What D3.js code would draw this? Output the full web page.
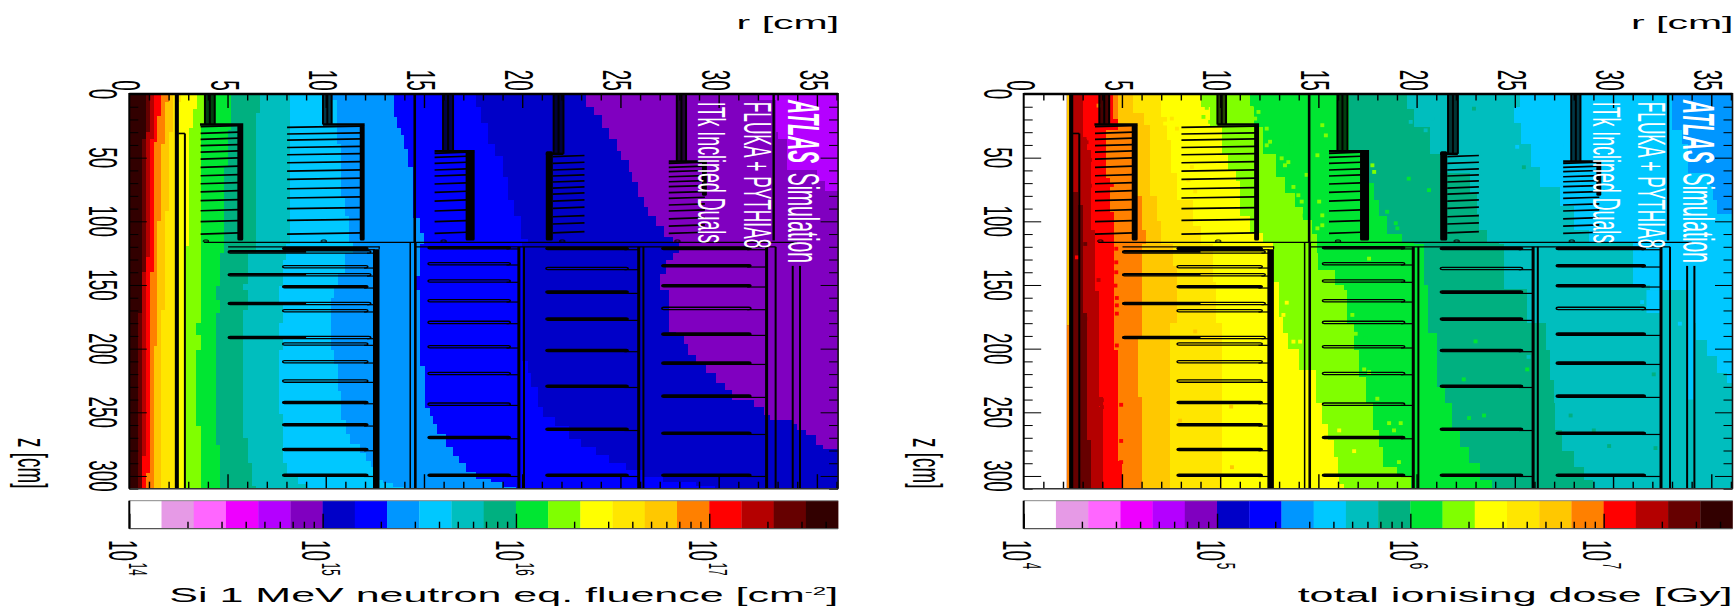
<!DOCTYPE html>
<html>
<head>
<meta charset="utf-8">
<script src="https://d3js.org/d3.v7.min.js"></script>
<style>
html, body { margin: 0; padding: 0; background: #fff; overflow: hidden; }
text { font-family: "Liberation Sans", Helvetica, Arial, sans-serif; fill: #000; }
</style>
</head>
<body>
<div id="chart"></div>
<script>
// colour levels of the palette, low to high (6 per decade)
var levelColors = ["#ffffff", "#e69ae6", "#ff66ff", "#ee00ff", "#b400ff", "#8000c0", "#0000c8", "#0000ff",
    "#0096ff", "#00c8ff", "#00bebe", "#00b080", "#00e632", "#80ff00", "#ffff00", "#ffe600",
    "#ffc800", "#ff8000", "#ff0000", "#b40000", "#660000", "#320000"];

var rMajorTicks = [0, 5, 10, 15, 20, 25, 30, 35];
var rMinorTicks = [1, 2, 3, 4, 6, 7, 8, 9, 11, 12, 13, 14, 16, 17, 18, 19, 21, 22, 23, 24, 26, 27, 28, 29, 31, 32, 33, 34, 36];
var zMajorTicks = [0, 50, 100, 150, 200, 250, 300];
var zMinorTicks = [10, 20, 30, 40, 60, 70, 80, 90, 110, 120, 130, 140, 160, 170, 180, 190, 210, 220, 230, 240, 260, 270, 280, 290, 310];

var fluenceDecades = [1e14, 1e15, 1e16, 1e17];
var fluenceExponents = ["14", "15", "16", "17"];
var fluenceMinor = [2e14, 3e14, 4e14, 5e14, 6e14, 7e14, 8e14, 9e14, 2e15, 3e15, 4e15, 5e15, 6e15, 7e15, 8e15, 9e15,
    2e16, 3e16, 4e16, 5e16, 6e16, 7e16, 8e16, 9e16, 2e17, 3e17, 4e17];
var doseDecades = [1e4, 1e5, 1e6, 1e7];
var doseExponents = ["4", "5", "6", "7"];
var doseMinor = [2e4, 3e4, 4e4, 5e4, 6e4, 7e4, 8e4, 9e4, 2e5, 3e5, 4e5, 5e5, 6e5, 7e5, 8e5, 9e5,
    2e6, 3e6, 4e6, 5e6, 6e6, 7e6, 8e6, 9e6, 2e7, 3e7, 4e7];

// fluence map: for colour level n, [z, outer r of that level from this z on]
var fluenceBase = 4;
var fluenceEdge5 = [[0,32.07],[5,32.9],[30,33],[35,33.5],[60,35],[68,35.4],[76,36.2]];
var fluenceEdge6 = [[0,23.26],[10,23.63],[16.5,24.04],[27,24.44],[35,24.83],[45,25.05],[52,25.46],[61,25.6],[69,25.9],[81,26.2],[88.5,26.4],[96,26.8],[104,27.24],[112,27.66],[116,28],[125,27.66],[130,27.3],[141,27],[154,27.45],[187,27.84],[189,28.26],[196,28.43],[205,28.85],[213,29.36],[219.5,29.87],[227,30.3],[232.6,30.7],[240,31.8],[245.7,32.3],[252,32.6],[256,33.77],[259,34],[264,34.44],[268,34.95],[276,35.3],[278.5,36.2]];
var fluenceEdge7 = [[0,17.66],[10,17.9],[23,18.26],[39,18.6],[49,19.02],[65,19.27],[83,19.6],[96,19.95],[114,20.3],[116,20],[210,20.3],[219.5,20.46],[230,20.8],[245.7,21.05],[253.5,21.65],[261,22.4],[270.6,23],[277,23.77],[283.7,24.44],[290,25.3],[295.5,26.14],[300.7,27.16],[304.6,28.85],[308,29.8]];
var fluenceEdge8 = [[0,13.46],[18,13.63],[27,13.81],[32,14],[43,14.2],[57,14.44],[97,14.8],[109,15],[118,14.81],[143,14.6],[154,14.8],[214,15.03],[247,15.3],[253,15.46],[259,15.66],[267,16.1],[270.6,16.14],[277,16.48],[284,16.8],[290,17.15],[297,17.66],[302,18.4],[305,19],[308.6,19.7]];
var fluenceEdge9 = [[0,10.29],[5,10.58],[39,10.8],[81,11],[96,11.2],[116,11.4],[125,10.97],[141,10.6],[151,10.4],[160,10.25],[201,10.4],[212,10.63],[233,10.8],[256,11.05],[267,11.25],[274.5,11.73],[282,12.07],[288,12.3],[293,12.5],[303,12.9],[305.5,13.42],[308.6,14]];
var fluenceEdge10 = [[0,8.2],[118,8],[130,7.83],[151,7.6],[164,7.83],[180,7.6],[191,7.83],[201,7.6],[251,7.83],[290,8.05],[300.7,8.6],[306,9]];
var fluenceEdge11 = [[0,6.64],[15,6.44],[125,6.05],[149,5.8],[154,6.05],[170,5.8],[270,6.05],[290,6.25],[308,6.44]];
var fluenceEdge12 = [[0,5.2],[28,5.03],[57,4.8],[125,4.6],[151,4.4],[162,4.6],[172,4.4],[276,4.6]];
var fluenceEdge13 = [[0,3.85],[24,3.64],[180,3.42],[189,3.64],[201,3.42],[261,3.64]];
var fluenceEdge14 = [[0,3.46],[12,3.24],[27,3.03],[119,2.9]];
var fluenceEdge15 = [[0,2.65],[6,2.4]];
var fluenceEdge16 = [[0,2.22],[30,2.02],[92,1.81],[170,1.6]];
var fluenceEdge17 = [[0,2.02],[6,1.81],[39,1.6],[100,1.4],[198,1.25]];
var fluenceEdge18 = [[0,1.6],[17,1.4],[38,1.25],[140,1.05],[298,0.85]];
var fluenceEdge19 = [[0,1.25],[35,1.05],[128,0.85],[284,0.64]];
var fluenceEdge20 = [[0,1.05],[30,0.85],[140,0.64]];
var fluenceEdge21 = [[0,0.85],[35,0.64],[172,0.44]];

// dose map, same layout
var doseBase = 8;
var doseEdge9 = [[0,33],[28,33.5],[39,33.8],[62,34.94],[72,35.1],[83,35.28],[94,36.2]];
var doseEdge10 = [[0,25.28],[10,24.95],[23,25.3],[39,25.8],[57,26.3],[73,27.3],[88,28],[107,28.8],[116,31],[150,31.9],[154,34.17],[180,34.2],[193,34.77],[206,35.28],[219,35.8],[227,36.2]];
var doseEdge11 = [[0,19.5],[12,19.85],[26,20.7],[47,21.2],[62,22.74],[78,23.07],[94,23.2],[107,23.58],[116,24.2],[118,24.43],[153,25.6],[180,26.6],[201,26.8],[225,26.97],[243,27.06],[264,27.4],[280,28],[293,28.5],[303,29]];
var doseEdge12 = [[0,16.55],[46,17.57],[70,17.82],[83,18.07],[96,18.5],[110,19.26],[116,19.85],[118,20.36],[150,20.6],[188,21.04],[230,21.46],[243,21.8],[264,22.2],[277,22.65],[290,23.25],[303,23.84]];
var doseEdge13 = [[0,11.5],[10,11.7],[26,12.19],[47,12.86],[65,13.3],[78,13.8],[89,14.2],[99,14.7],[110,14.94],[125,15],[138,15.87],[150,16.3],[154,16.46],[180,16.8],[201,17.06],[222,17.4],[243,17.8],[264,18.07],[277,18.3],[293,19],[300,19.7]];
var doseEdge14 = [[0,9.05],[10,9.47],[26,10.07],[47,10.4],[60,10.83],[68,11],[96,11.5],[109,12.19],[116,12.7],[148,13],[175,13.2],[188,13.46],[200,14],[217,14.9],[243,15.2],[259,15.5],[272,15.8],[285,16],[300,16.04],[306,16.3]];
var doseEdge15 = [[0,7],[18,7.27],[36,7.5],[62,7.78],[83,8.6],[104,9.05],[118,9.64],[148,9.8],[180,10.07]];
var doseEdge16 = [[0,5.58],[15,6.1],[24,6.42],[80,6.8],[100,7],[118,7.58],[135,7.78],[180,7.44]];
var doseEdge17 = [[0,4.8],[24,5.5],[80,6],[107,6.2],[118,6],[190.7,5.8],[238,6]];
var doseEdge18 = [[0,4.56],[20,4.8],[28,4.18],[66,4.39],[93,4.59],[201,4.8],[288,5]];
var doseEdge19 = [[0,3],[35,3.22],[44,3.42],[107,3.63],[155,3.83],[238,4.03],[245,3.83],[246,4.03]];
var doseEdge20 = [[0,2.4],[77,2.78],[87,3],[172,3.22],[272,3.42]];
// patches that do not follow the edges: r0, r1, z0, z1, colour level
var dosePatches = [[33.75,34.1,135,240,9],[31.7,32.45,154,172,9],[2.19,2.32,0,181.5,16],[2.19,2.32,181.5,310,17],[0,2.19,0,310,0]];
// single noisy bins in the dose map: r, z, colour level
var doseSpecks = [[9.22,9.4,13],[9.05,16.5,13],[9.39,20.4,13],[11.5,9.4,13],[11.85,12.6,13],[11.68,17.8,13],[11.42,21.7,13],
    [12.27,25.7,13],[12.44,36,13],[12.27,38.8,13],[13.03,49,13],[13.2,54.5,13],[13.37,52,13],[13.63,71.5,13],[13.88,78,13],
    [14.05,83,13],[14.3,62,13],[13.54,37.5,12],[12.78,7.9,12],[14.8,83,12],[14.2,94,12],[8.46,55.8,15],[8.29,66,15],[8.63,75,15],
    [7.7,25.7,15],[7.44,17.8,15],[7.1,21.7,14],[3.88,29.6,18],[3,33.8,19],[3.1,36.4,19],[3.27,50.3,19],[3.27,70.5,19],
    [3.03,116.3,20],[2.61,126.8,18],[3.71,144.6,19],[4.39,70,18],[4.61,120,18],[4.61,130.7,18],[4.61,138.5,18],[4.57,149,18],
    [3.71,7.6,17],[3.63,156.6,19],[3.63,159.8,19],[4.64,158.7,18],[4.64,164.5,18],[4.64,171,18],[4.64,196,18],[3.88,239,19],
    [3.88,244.4,19],[4.86,242.6,18],[4.86,271,18],[4.86,287.6,18],[3.03,175,20],[13.29,162.4,14],[13.12,172,14],[13.63,193,14],
    [13.97,193,14],[13.29,202.5,14],[8.63,185,16],[7.86,255,16],[10.46,244,16],[10.5,291.6,16],[14.85,46.6,13],[14.94,83,13],
    [14.85,104,13],[15.1,93.8,13],[15.1,101.6,13],[15.1,23,13],[15.28,31,13],[19.5,65,12],[20.53,74,12],[17.65,54.5,13],
    [17.74,59.7,13],[18.4,91,12],[18.92,104,12],[18.84,100,12],[19.6,20.4,10],[20.7,17.8,10],[20.36,27,10],[22.82,10,11],
    [25.36,56,11],[26.46,24.4,9],[27.3,38.8,9],[26.63,33.5,9],[26.04,21.7,9],[25.02,40,9],[17.48,127.8,13],[16.63,172,13],
    [16.8,186.8,13],[17.31,190.7,12],[17.23,214.8,13],[17.48,217,13],[17.9,237.8,13],[18.5,257,13],[18.75,262.7,13],
    [19.09,257,13],[15.96,262.7,14],[16.72,279,14],[19,287.6,13],[22.9,192.8,12],[22.3,222.6,12],[23.33,251,12],[22.57,253,12],
    [25.53,214.8,12],[25.6,205,10],[27.74,251,11],[29.7,275,11],[28.92,262.7,11],[31.97,218.7,11],[32.06,276.6,11],
    [31.38,161.9,9],[31.97,164.5,9],[33.3,178.9,9],[35.45,214.8,9]];

// detector outlines, r and z in cm
var beamR = 2.42;
var innerTubeR = 2.83;
var staveBundles = [[3.85, 4.35, 0, 24], [9.86, 10.3, 0, 24], [15.97, 16.48, 0, 45], [21.6, 22.1, 0, 47], [27.87, 28.34, 0, 53]];
var layerTeethStart = [3.63, 8.03, 15.54, 21.56, 27.46];
var layerTeethEnd = [5.55, 11.8, 17.16, 23.17, 29.3];
var layerSpines = [[5.5, 5.8, 24, 115], [11.73, 11.98, 24, 115], [17.12, 17.58, 45, 115], [21.2, 21.56, 45, 115], [29.15, 29.4, 53, 80]];
var layerTopBars = [[3.6, 5.8, 24], [9.86, 11.98, 24], [15.54, 17.58, 45], [21.2, 22.1, 47], [27.46, 29.4, 53]];
var layerTeethZ = [
    [25.7, 30.9, 35.6, 40.6, 45.6, 51.1, 57.6, 64.2, 70.5, 76.8, 83.8, 91.7, 100.3, 110],
    [26.2, 31.4, 36.2, 42, 47.7, 54, 60.5, 67, 74.4, 81.7, 90.1, 99.3, 110],
    [46.6, 49.8, 54.5, 59.7, 64.4, 70.7, 77.3, 84.1, 91.9, 100.3, 109.5],
    [49.2, 54.5, 59.7, 64.4, 69.1, 73.9, 78.6, 84.1, 89.8, 96.4, 102.1, 109],
    [54.5, 57.6, 61, 65, 68.9, 72.8, 77.5, 82, 87.2, 91.9, 98, 103.7, 109.5]
];
var smallRingsR = [3.9, 9.9, 16, 22.04, 27.9];

var ringLong = [124, 142, 164.5, 191.2];
var ringASolid = [121.3, 151.4, 242.3, 259.8, 279.2, 299.4];
var ringAHollow = [135.7, 170.2, 196.4, 210.3, 225.5];
var ringBSolid = [120.7, 269.8, 299.4];
var ringBHollow = [133.3, 146.9, 162.4, 179.4, 198.5, 219.5, 243.6];
var ringCSolid = [121.3, 155.6, 176.8, 201.4, 229.5, 263.3, 299.4];
var ringCHollow = [137];
var ringDSolid = [121.3, 134.9, 150.6, 188.6, 211.4, 237.3, 266.4, 299.4];
var ringDHollow = [168.4];

// vertical supports: r, z0, z1, line width
var supports = [
    [beamR, 0, 310, 4], [innerTubeR, 31, 310, 2], [14.53, 0, 116.5, 2.6],
    [14.3, 116.5, 310, 1.5], [14.56, 116.5, 310, 2.6], [12.57, 122, 310, 6.5], [12.72, 120, 122, 1.2],
    [19.83, 120, 310, 3], [20.09, 120, 310, 2], [25.93, 120, 310, 3], [26.17, 120, 310, 2],
    [32.44, 120, 310, 3], [32.9, 120, 310, 2], [32.8, 0, 115, 2.4], [33.77, 135, 310, 2], [34.14, 135, 310, 2]
];

var panelWidth = 708.8;
var plotTop = 94, plotBottom = 488.7;
var barTop = 500.7, barBottom = 528.7;
var textSquash = 0.46;

var x = d3.scaleLinear().domain([0, 36.08]).range([0, panelWidth]);
var z = d3.scaleLinear().domain([0, 310]).range([plotTop, plotBottom]);

var svg = d3.select("#chart").append("svg")
    .attr("width", 1734)
    .attr("height", 607)
    .style("display", "block");

// all the text in the picture is squashed in y
function addText(g, px, py, str, size, rotated, anchor, squash) {
    return g.append("text")
        .attr("transform", "translate(" + px + "," + py + ") scale(1," + (squash || textSquash) + ")" + (rotated ? " rotate(90)" : ""))
        .attr("text-anchor", anchor)
        .attr("font-size", size)
        .text(str);
}

function drawMap(g, clipId, base, edges, patches, specks) {
    var area = d3.area()
        .x0(x(0))
        .x1(function(d) { return x(d[1]); })
        .y(function(d) { return z(d[0]); })
        .curve(d3.curveStepBefore);
    g.append("clipPath").attr("id", clipId).append("rect")
        .attr("x", 0).attr("y", plotTop).attr("width", panelWidth).attr("height", plotBottom - plotTop);
    var m = g.append("g").attr("clip-path", "url(#" + clipId + ")");
    m.append("rect")
        .attr("x", 0).attr("y", plotTop).attr("width", panelWidth).attr("height", plotBottom - plotTop)
        .attr("fill", levelColors[base]);
    edges.forEach(function(e) {
        var pts = e.steps.concat([[310, e.steps[e.steps.length - 1][1]]]);
        m.append("path").attr("d", area(pts)).attr("fill", levelColors[e.level]).attr("shape-rendering", "crispEdges");
    });
    m.selectAll("rect.speck").data(specks).enter().append("rect")
        .attr("class", "speck")
        .attr("x", function(d) { return x(d[0]); })
        .attr("width", x(0.2) - x(0))
        .attr("y", function(d) { return z(d[1]); })
        .attr("height", z(3) - z(0))
        .attr("fill", function(d) { return levelColors[d[2]]; });
    m.selectAll("rect.patch").data(patches).enter().append("rect")
        .attr("class", "patch")
        .attr("x", function(d) { return x(d[0]); })
        .attr("width", function(d) { return x(d[1]) - x(d[0]); })
        .attr("y", function(d) { return z(d[2]); })
        .attr("height", function(d) { return z(d[3]) - z(d[2]); })
        .attr("fill", function(d) { return levelColors[d[4]]; });
}

function hLine(g, r0, r1, zv, w) {
    g.append("line")
        .attr("x1", x(r0)).attr("x2", x(r1))
        .attr("y1", z(zv)).attr("y2", z(zv))
        .attr("stroke", "#000").attr("stroke-width", w);
}

function drawRings(g, zList, r0, r1, rEnd, solid) {
    zList.forEach(function(zv) {
        g.append("rect")
            .attr("x", x(r0)).attr("width", x(r1) - x(r0))
            .attr("y", z(zv - 0.9)).attr("height", z(zv + 0.9) - z(zv - 0.9))
            .attr("rx", 2)
            .attr("fill", solid ? "#000" : "none")
            .attr("stroke", "#000").attr("stroke-width", 1.3);
        hLine(g, r1 - 0.2, rEnd, zv + 1, 1.2);
    });
}

function drawDetector(g) {
    // barrel staves
    staveBundles.forEach(function(s) {
        g.append("rect")
            .attr("x", x(s[0])).attr("width", x(s[1]) - x(s[0]))
            .attr("y", z(s[2])).attr("height", z(s[3]) - z(s[2]))
            .attr("fill", "#000").attr("fill-opacity", 0.72);
        [s[0], (s[0] + s[1]) / 2, s[1]].forEach(function(r) {
            g.append("line").attr("x1", x(r)).attr("x2", x(r)).attr("y1", z(s[2])).attr("y2", z(s[3]))
                .attr("stroke", "#000").attr("stroke-width", 2);
        });
    });
    layerTeethZ.forEach(function(list, i) {
        g.selectAll("line.tooth" + i).data(list).enter().append("line")
            .attr("class", "tooth" + i)
            .attr("x1", x(layerTeethStart[i])).attr("x2", x(layerTeethEnd[i]))
            .attr("y1", function(d) { return z(d); })
            .attr("y2", function(d) { return z(d - 0.9); })
            .attr("stroke", "#000").attr("stroke-width", 1.7);
    });
    layerSpines.forEach(function(s) {
        g.append("rect")
            .attr("x", x(s[0])).attr("width", x(s[1]) - x(s[0]))
            .attr("y", z(s[2])).attr("height", z(s[3]) - z(s[2]))
            .attr("rx", 1.5).attr("fill", "#000");
    });
    layerTopBars.forEach(function(b) { hLine(g, b[0], b[1], b[2], 2.4); });
    smallRingsR.forEach(function(r) {
        g.append("ellipse").attr("cx", x(r)).attr("cy", z(115.5)).attr("rx", 3).attr("ry", 1.1)
            .attr("fill", "none").attr("stroke", "#000").attr("stroke-width", 1);
    });
    // horizontal service lines
    hLine(g, 3.8, 34, 116.5, 1.4);
    hLine(g, 5.03, 12.75, 120, 1.2);
    hLine(g, 14.56, 32.9, 120, 1.2);
    // end-cap rings
    drawRings(g, ringLong, 5.03, 12.3, 12.5, false);
    ringLong.forEach(function(zv) { hLine(g, 5.03, 9, zv, 1.6); });
    drawRings(g, ringASolid, 7.8, 12.15, 12.5, true);
    drawRings(g, ringAHollow, 7.8, 12.15, 12.5, false);
    drawRings(g, ringBSolid, 15.2, 19.4, 19.8, true);
    drawRings(g, ringBHollow, 15.2, 19.4, 19.8, false);
    drawRings(g, ringCSolid, 21.2, 25.4, 25.9, true);
    drawRings(g, ringCHollow, 21.2, 25.4, 25.9, false);
    drawRings(g, ringDSolid, 27.1, 31.65, 32.4, true);
    drawRings(g, ringDHollow, 27.1, 31.65, 32.4, false);
    g.selectAll("line.support").data(supports).enter().append("line")
        .attr("class", "support")
        .attr("x1", function(d) { return x(d[0]); })
        .attr("x2", function(d) { return x(d[0]); })
        .attr("y1", function(d) { return z(d[1]); })
        .attr("y2", function(d) { return z(d[2]); })
        .attr("stroke", "#000")
        .attr("stroke-width", function(d) { return d[3]; });
    hLine(g, 2.5, innerTubeR, 31, 1.6);
}

function tickStyle(a, w) {
    a.select(".domain").remove();
    a.selectAll("line").attr("stroke", "#000").attr("stroke-width", w);
}

function drawAxes(g) {
    var xTicks = function(axisFn, vals, len) { return axisFn(x).tickValues(vals).tickSize(len).tickFormat(""); };
    var zTicks = function(axisFn, vals, len) { return axisFn(z).tickValues(vals).tickSize(len).tickFormat(""); };
    g.append("g").attr("transform", "translate(0," + plotTop + ")").call(xTicks(d3.axisBottom, rMajorTicks.slice(1), 14)).call(tickStyle, 1.4);
    g.append("g").attr("transform", "translate(0," + plotTop + ")").call(xTicks(d3.axisBottom, rMinorTicks, 6.5)).call(tickStyle, 1.4);
    g.append("g").attr("transform", "translate(0," + plotBottom + ")").call(xTicks(d3.axisTop, rMajorTicks.slice(1), 14.5)).call(tickStyle, 1.4);
    g.append("g").attr("transform", "translate(0," + plotBottom + ")").call(xTicks(d3.axisTop, rMinorTicks, 7)).call(tickStyle, 1.4);
    g.append("g").call(zTicks(d3.axisRight, zMajorTicks.slice(1), 17.5)).call(tickStyle, 1);
    g.append("g").call(zTicks(d3.axisRight, zMinorTicks, 9)).call(tickStyle, 1);
    g.append("g").attr("transform", "translate(" + panelWidth + ",0)").call(zTicks(d3.axisLeft, zMajorTicks.slice(1), 17.5)).call(tickStyle, 1);
    g.append("g").attr("transform", "translate(" + panelWidth + ",0)").call(zTicks(d3.axisLeft, zMinorTicks, 9)).call(tickStyle, 1);
    // frame
    hLine(g, 0, 36.08, 0, 2.6);
    g.append("line").attr("x1", 0).attr("x2", panelWidth).attr("y1", plotBottom).attr("y2", plotBottom).attr("stroke", "#333").attr("stroke-width", 1.6);
    g.append("line").attr("x1", 0).attr("x2", 0).attr("y1", plotTop - 1).attr("y2", plotBottom).attr("stroke", "#000").attr("stroke-width", 2);
    g.append("line").attr("x1", panelWidth).attr("x2", panelWidth).attr("y1", plotTop - 1).attr("y2", plotBottom).attr("stroke", "#111").attr("stroke-width", 1.6);
    rMajorTicks.forEach(function(t) { addText(g, x(t) - 17, 90.7, String(t), 41, true, "end"); });
    zMajorTicks.forEach(function(t) { addText(g, -40, z(t), String(t), 41, true, "middle"); });
    addText(g, -111, 488.4, "z [cm]", 41, true, "end");
    addText(g, panelWidth + 1, 28.5, "r [cm]", 41, false, "end");
}

function drawLabels(g) {
    var a = addText(g, 659, 100, "", 44, true, "start", 0.44).style("fill", "#fff");
    a.append("tspan").attr("font-weight", "bold").attr("font-style", "italic").text("ATLAS").style("fill", "#fff");
    a.append("tspan").attr("dx", 22).text("Simulation").style("fill", "#fff");
    addText(g, 614.7, 101.7, "FLUKA + PYTHIA8", 38.7, true, "start", 0.447).style("fill", "#fff");
    addText(g, 569, 101.7, "ITk Inclined Duals", 38.7, true, "start").style("fill", "#fff");
}

function drawColorBar(g, domainMax, domainMin, decades, exps, minor, title, supParts) {
    var band = d3.scaleBand().domain(levelColors).range([0, panelWidth]);
    g.selectAll("rect.level").data(levelColors).enter().append("rect")
        .attr("class", "level")
        .attr("x", function(d) { return band(d); })
        .attr("width", band.bandwidth() + 0.3)
        .attr("y", barTop).attr("height", barBottom - barTop)
        .attr("fill", function(d) { return d; });
    var bar = d3.scaleLog().domain([domainMin, domainMax]).range([0, panelWidth]);
    g.append("g").attr("transform", "translate(0," + barBottom + ")")
        .call(d3.axisTop(bar).tickValues(decades).tickSize(15).tickFormat("")).call(tickStyle, 1.4);
    g.append("g").attr("transform", "translate(0," + barBottom + ")")
        .call(d3.axisTop(bar).tickValues(minor).tickSize(7).tickFormat("")).call(tickStyle, 1.4);
    g.append("line").attr("x1", 0).attr("x2", panelWidth).attr("y1", barTop).attr("y2", barTop).attr("stroke", "#888").attr("stroke-width", 1);
    g.append("line").attr("x1", 0).attr("x2", panelWidth).attr("y1", barBottom).attr("y2", barBottom).attr("stroke", "#555").attr("stroke-width", 1.2);
    g.append("line").attr("x1", 0).attr("x2", 0).attr("y1", barTop).attr("y2", barBottom).attr("stroke", "#000").attr("stroke-width", 2);
    decades.forEach(function(d, i) {
        var t = addText(g, bar(d) - 20.3, 540, "10", 41, true, "start");
        t.append("tspan").attr("font-size", 25).attr("dy", -20).attr("dx", 4).text(exps[i]);
    });
    var tt = addText(g, panelWidth, 602, title, 43, false, "end");
    if (supParts) {
        tt.append("tspan").attr("font-size", 24).attr("dy", -15).text(supParts[0]);
        tt.append("tspan").attr("dy", 15).text(supParts[1]);
    }
}

var fluenceEdges = [
    { level: 5, steps: fluenceEdge5 }, { level: 6, steps: fluenceEdge6 }, { level: 7, steps: fluenceEdge7 },
    { level: 8, steps: fluenceEdge8 }, { level: 9, steps: fluenceEdge9 }, { level: 10, steps: fluenceEdge10 },
    { level: 11, steps: fluenceEdge11 }, { level: 12, steps: fluenceEdge12 }, { level: 13, steps: fluenceEdge13 },
    { level: 14, steps: fluenceEdge14 }, { level: 15, steps: fluenceEdge15 }, { level: 16, steps: fluenceEdge16 },
    { level: 17, steps: fluenceEdge17 }, { level: 18, steps: fluenceEdge18 }, { level: 19, steps: fluenceEdge19 },
    { level: 20, steps: fluenceEdge20 }, { level: 21, steps: fluenceEdge21 }
];
var doseEdges = [
    { level: 9, steps: doseEdge9 }, { level: 10, steps: doseEdge10 }, { level: 11, steps: doseEdge11 },
    { level: 12, steps: doseEdge12 }, { level: 13, steps: doseEdge13 }, { level: 14, steps: doseEdge14 },
    { level: 15, steps: doseEdge15 }, { level: 16, steps: doseEdge16 }, { level: 17, steps: doseEdge17 },
    { level: 18, steps: doseEdge18 }, { level: 19, steps: doseEdge19 }, { level: 20, steps: doseEdge20 }
];

var leftPanel = svg.append("g").attr("transform", "translate(129.3,0)");
drawMap(leftPanel, "clipFluence", fluenceBase, fluenceEdges, [], []);
drawDetector(leftPanel);
drawAxes(leftPanel);
drawLabels(leftPanel);
drawColorBar(leftPanel, 4.64e17, 1e14, fluenceDecades, fluenceExponents, fluenceMinor, "Si 1 MeV neutron eq. fluence [cm", ["-2", "]"]);

var rightPanel = svg.append("g").attr("transform", "translate(1023.7,0)");
drawMap(rightPanel, "clipDose", doseBase, doseEdges, dosePatches, doseSpecks);
drawDetector(rightPanel);
drawAxes(rightPanel);
drawLabels(rightPanel);
drawColorBar(rightPanel, 4.64e7, 1e4, doseDecades, doseExponents, doseMinor, "total ionising dose [Gy]", null);
</script>
</body>
</html>
